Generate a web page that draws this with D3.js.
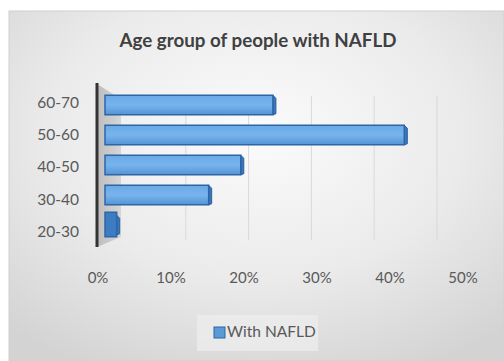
<!DOCTYPE html>
<html>
<head>
<meta charset="utf-8">
<script src="https://cdn.jsdelivr.net/npm/d3@7"></script>
<style>
  html, body { margin: 0; padding: 0; background: #fff; }
  svg { display: block; }
  text { font-family: Lato, "Open Sans", sans-serif; }
</style>
</head>
<body>
<svg id="chart" width="504" height="361"></svg>
<script>
// Chart data
var categories = ['60-70', '50-60', '40-50', '30-40', '20-30'];
var values     = [0.23, 0.41, 0.186, 0.142, 0.016];
var ticks      = [0, 0.1, 0.2, 0.3, 0.4, 0.5];
var gridTicks  = [0.1, 0.2, 0.3, 0.4, 0.5];
var seriesName = 'With NAFLD';
var title      = 'Age group of people with NAFLD';

var svg = d3.select('#chart');
var defs = svg.append('defs');

// Chart area background (soft radial gradient)
var bg = defs.append('radialGradient').attr('id', 'bg')
    .attr('cx', '50%').attr('cy', '35%').attr('r', '75%');
bg.append('stop').attr('offset', '0%').attr('stop-color', '#fbfbfb');
bg.append('stop').attr('offset', '55%').attr('stop-color', '#ebebeb');
bg.append('stop').attr('offset', '100%').attr('stop-color', '#d3d3d3');

var barGrad = defs.append('linearGradient').attr('id', 'barFill')
    .attr('x1', 0).attr('y1', 0).attr('x2', 0).attr('y2', 1);
barGrad.append('stop').attr('offset', '0%').attr('stop-color', '#6aa9e6');
barGrad.append('stop').attr('offset', '50%').attr('stop-color', '#78b5ee');
barGrad.append('stop').attr('offset', '100%').attr('stop-color', '#5393d6');

var wallGrad = defs.append('linearGradient').attr('id', 'wall')
    .attr('x1', 0).attr('y1', 0).attr('x2', 1).attr('y2', 0);
wallGrad.append('stop').attr('offset', '0%').attr('stop-color', '#b5b5b5');
wallGrad.append('stop').attr('offset', '100%').attr('stop-color', '#d2d2d2');

svg.append('rect')
    .attr('x', 9).attr('y', 11).attr('width', 495).attr('height', 350)
    .attr('fill', 'url(#bg)')
    .attr('stroke', '#d0d0d0').attr('stroke-width', 1);

// Title
var t = svg.append('text')
    .attr('x', 258).attr('y', 47)
    .attr('text-anchor', 'middle')
    .attr('font-size', 16).attr('font-weight', 'bold')
    .attr('fill', '#404040')
    .text(title);
var tw = t.node().getComputedTextLength();
t.attr('font-size', 16 * 277 / tw);

// Scales
var xFront = d3.scaleLinear().domain([0, 0.5]).range([105, 470]);
var xBack  = d3.scaleLinear().domain([0, 0.5]).range([123, 437]);
var xLabel = d3.scaleLinear().domain([0, 0.5]).range([98, 463]);
var yBar   = d3.scaleBand().domain(categories).range([90, 240]).paddingInner(0.35).paddingOuter(0.175);
var yLabel = d3.scaleBand().domain(categories).range([86, 248]);

// Back gridlines
svg.append('g').selectAll('line')
    .data(gridTicks).enter().append('line')
    .attr('x1', function(d){ return xBack(d); })
    .attr('x2', function(d){ return xBack(d); })
    .attr('y1', 96).attr('y2', 240)
    .attr('stroke', '#d9d9d9').attr('stroke-width', 1);

// Side wall (3D depth)
svg.append('path')
    .attr('d', 'M97,84 L121,99 L121,237 L97,247 Z')
    .attr('fill', 'url(#wall)').attr('opacity', 0.85);

// Bars
var bars = svg.append('g').selectAll('g.bar')
    .data(categories).enter().append('g').attr('class', 'bar');

bars.append('path')   // right end face
    .attr('d', function(c, i){
        var x = xFront(values[i]), y = yBar(c), h = yBar.bandwidth();
        return 'M' + x + ',' + y + ' L' + (x + 3) + ',' + (y + 3) +
               ' L' + (x + 3) + ',' + (y + h - 1) + ' L' + x + ',' + (y + h) + ' Z';
    })
    .attr('fill', '#3a78bd').attr('stroke', '#2b5f9a').attr('stroke-width', 1);

bars.append('rect')
    .attr('x', xFront(0))
    .attr('y', function(c, i){ return values[i] < 0.05 ? yBar(c) - 3 : yBar(c); })
    .attr('width', function(c, i){ return xFront(values[i]) - xFront(0); })
    .attr('height', function(c, i){ return values[i] < 0.05 ? yBar.bandwidth() + 5 : yBar.bandwidth(); })
    .attr('fill', function(c, i){ return values[i] < 0.05 ? '#3d7cc2' : 'url(#barFill)'; })
    .attr('stroke', '#2d65a6').attr('stroke-width', 1.5);

// Category axis line
svg.append('line')
    .attr('x1', 97).attr('x2', 97).attr('y1', 83).attr('y2', 247)
    .attr('stroke', '#333').attr('stroke-width', 3);

// Category labels
svg.append('g').selectAll('text')
    .data(categories).enter().append('text')
    .attr('x', 79)
    .attr('y', function(c){ return yLabel(c) + yLabel.bandwidth() / 2; })
    .attr('dy', '0.35em')
    .attr('text-anchor', 'end')
    .attr('font-size', 15.5).attr('fill', '#595959')
    .text(function(c){ return c; });

// Value axis labels
var fmt = d3.format('.0%');
svg.append('g').selectAll('text')
    .data(ticks).enter().append('text')
    .attr('x', function(d){ return xLabel(d); })
    .attr('y', 278)
    .attr('dy', '0.35em')
    .attr('text-anchor', 'middle')
    .attr('font-size', 15).attr('fill', '#595959')
    .text(function(d){ return fmt(d); });

// Legend
var legend = svg.append('g');
legend.append('rect')
    .attr('x', 197).attr('y', 315).attr('width', 121).attr('height', 36)
    .attr('fill', '#ececec').attr('opacity', 0.8);
legend.append('rect')
    .attr('x', 214).attr('y', 327).attr('width', 11).attr('height', 11)
    .attr('fill', '#5b9bd5').attr('stroke', '#2d65a6').attr('stroke-width', 1);
legend.append('text')
    .attr('x', 227).attr('y', 332).attr('dy', '0.35em')
    .attr('font-size', 15.5).attr('fill', '#595959')
    .text(seriesName);
</script>
</body>
</html>
